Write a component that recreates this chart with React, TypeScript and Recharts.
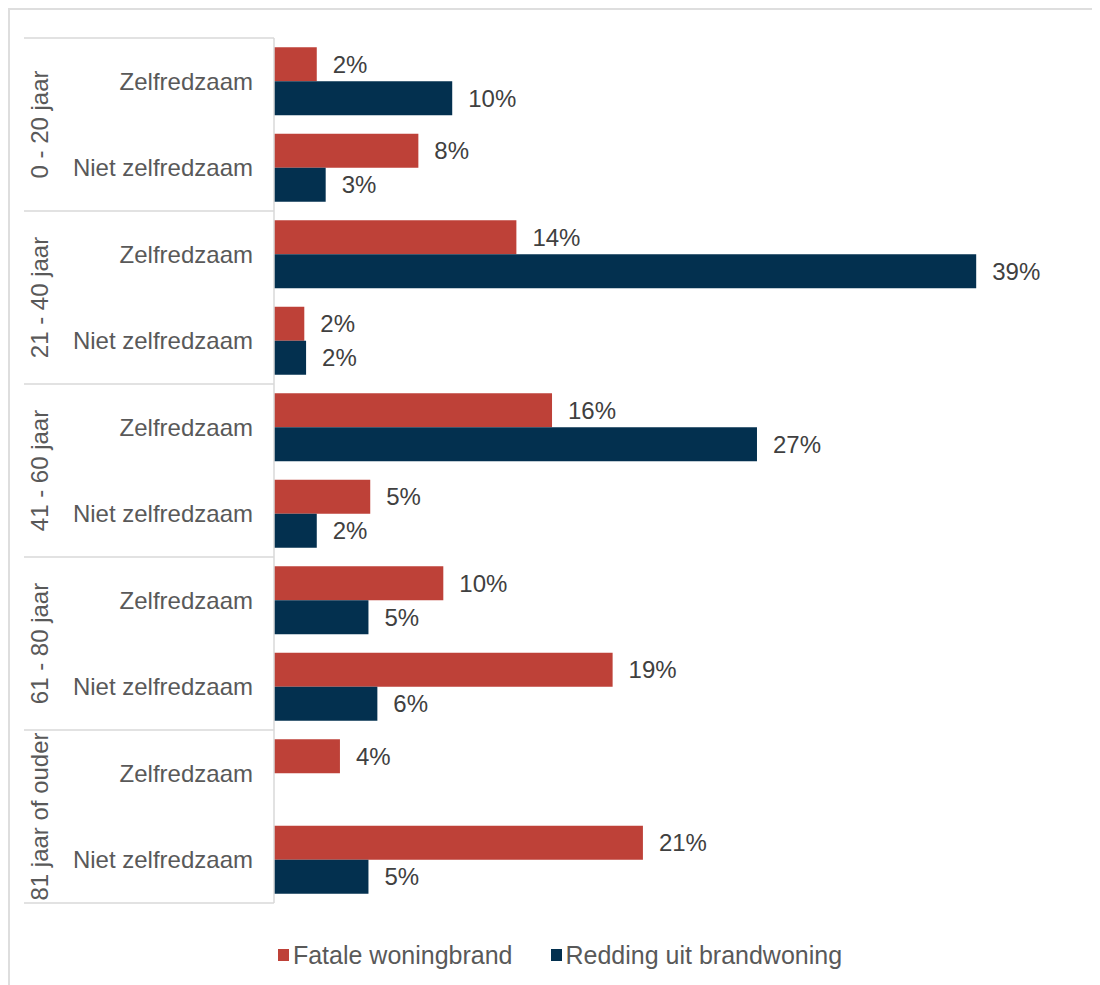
import { BarChart, Bar, XAxis, YAxis, Legend, LabelList } from "recharts";

const groups = ["0 - 20 jaar", "21 - 40 jaar", "41 - 60 jaar", "61 - 80 jaar", "81 jaar of ouder"];
const subs = ["Zelfredzaam", "Niet zelfredzaam"];

// percentages per category (group x sub)
const fatale = [2.4, 8.1, 13.6, 1.7, 15.6, 5.4, 9.5, 19.0, 3.7, 20.7];
const redding = [10.0, 2.9, 39.4, 1.8, 27.1, 2.4, 5.3, 5.8, 0, 5.3];

const RED = "#BE4138";
const NAVY = "#03304F";
const FONT = "'Liberation Sans', Arial, sans-serif";

const data = fatale.map((f, i) => ({
  key: `c${i}`,
  group: groups[Math.floor(i / 2)],
  sub: subs[i % 2],
  fatale: f,
  redding: redding[i],
}));

const pct = (v: any) => (v ? `${Math.round(Number(v))}%` : "");

function AxisTick(props: any) {
  const { x, y, payload } = props;
  const i = payload.index;
  const half = payload.offset ?? 43.25;
  const row = data[i];
  const lineLeft = 14;
  const lineRight = x + 21;
  return (
    <g>
      <text
        x={x}
        y={y}
        textAnchor="end"
        dominantBaseline="central"
        fill="#595959"
        fontSize={24}
        fontFamily={FONT}
      >
        {row.sub}
      </text>
      {i % 2 === 0 && (
        <>
          <line x1={lineLeft} x2={lineRight} y1={y - half} y2={y - half} stroke="#d9d9d9" strokeWidth={1.5} />
          <text
            transform={`translate(29, ${y + half}) rotate(-90)`}
            textAnchor="middle"
            dominantBaseline="central"
            fill="#595959"
            fontSize={24}
            fontFamily={FONT}
          >
            {row.group}
          </text>
        </>
      )}
      {i === data.length - 1 && (
        <line x1={lineLeft} x2={lineRight} y1={y + half} y2={y + half} stroke="#d9d9d9" strokeWidth={1.5} />
      )}
    </g>
  );
}

function LegendContent() {
  const items = [
    { name: "Fatale woningbrand", color: RED },
    { name: "Redding uit brandwoning", color: NAVY },
  ];
  return (
    <div
      style={{
        height: 67,
        paddingTop: 37,
        paddingLeft: 34,
        boxSizing: "border-box",
        display: "flex",
        justifyContent: "center",
        alignItems: "center",
        gap: 38,
        fontFamily: FONT,
        fontSize: 25,
        color: "#595959",
      }}
    >
      {items.map((it) => (
        <span key={it.name} style={{ display: "flex", alignItems: "center", gap: 4 }}>
          <span style={{ width: 11, height: 12, background: it.color, display: "inline-block" }} />
          {it.name}
        </span>
      ))}
    </div>
  );
}

export default function App() {
  return (
    <>
      <style>{"body{overflow:hidden}"}</style>
      <div
        style={{
          width: 1100,
          height: 977,
          borderTop: "2px solid #dedede",
          borderLeft: "2px solid #dedede",
          boxSizing: "border-box",
          overflow: "hidden",
        }}
      >
        <BarChart
          width={1090}
          height={975}
          data={data}
          layout="vertical"
          margin={{ top: 28, right: 24, left: 0, bottom: 15 }}
          barCategoryGap="10.7%"
          barGap={0}
        >
          <XAxis type="number" domain={[0, 45]} hide />
          <YAxis
            type="category"
            dataKey="key"
            width={264}
            axisLine={{ stroke: "#d9d9d9", strokeWidth: 1.5 }}
            tickLine={false}
            tickSize={0}
            tickMargin={21}
            tick={<AxisTick />}
            interval={0}
          />
          <Legend verticalAlign="bottom" content={<LegendContent />} />
          <Bar dataKey="fatale" name="Fatale woningbrand" fill={RED} isAnimationActive={false}>
            <LabelList dataKey="fatale" position="right" offset={16} formatter={pct} fill="#404040" fontSize={24} fontFamily={FONT} />
          </Bar>
          <Bar dataKey="redding" name="Redding uit brandwoning" fill={NAVY} isAnimationActive={false}>
            <LabelList dataKey="redding" position="right" offset={16} formatter={pct} fill="#404040" fontSize={24} fontFamily={FONT} />
          </Bar>
        </BarChart>
      </div>
    </>
  );
}
